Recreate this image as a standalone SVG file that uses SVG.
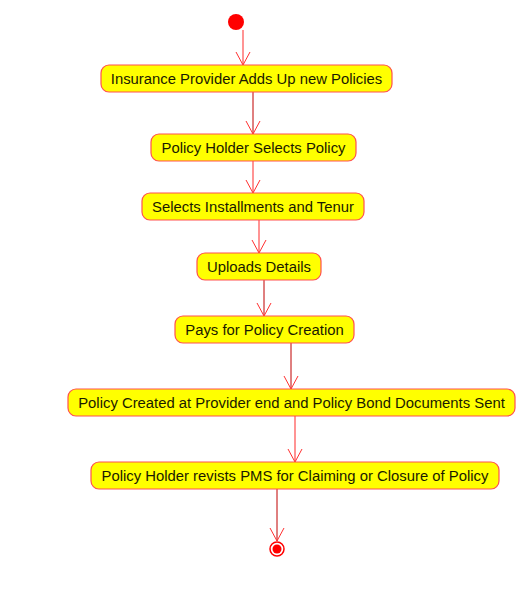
<svg xmlns="http://www.w3.org/2000/svg" width="517" height="608" viewBox="0 0 517 608">
<defs>
<style>
.node rect{fill:#FFFF00;stroke:#FF5050;stroke-width:1.2}
.node text{font-family:"Liberation Sans",Arial,sans-serif;font-size:14.85px;fill:#1a1a00;text-anchor:middle}
.c{fill:none;stroke-width:1}
.dark{stroke:#C00000}
.light{stroke:#FF7070;stroke-width:1.5}
.ah{fill:none;stroke:#FF3030;stroke-width:1}
</style>
</defs>
<rect width="517" height="608" fill="#ffffff"/>
<g id="connectors">
<line class="c light" x1="243" y1="30" x2="243" y2="65"/>
<polyline class="ah" points="236,52 243,65 250,52"/>
<line class="c dark" x1="253" y1="92" x2="253" y2="134"/>
<polyline class="ah" points="246,121 253,134 260,121"/>
<line class="c light" x1="253" y1="161" x2="253" y2="193"/>
<polyline class="ah" points="246,180 253,193 260,180"/>
<line class="c light" x1="259" y1="220" x2="259" y2="253"/>
<polyline class="ah" points="252,240 259,253 266,240"/>
<line class="c dark" x1="264" y1="280" x2="264" y2="316"/>
<polyline class="ah" points="257,303 264,316 271,303"/>
<line class="c dark" x1="291" y1="343" x2="291" y2="389"/>
<polyline class="ah" points="284,376 291,389 298,376"/>
<line class="c light" x1="295" y1="416" x2="295" y2="462"/>
<polyline class="ah" points="288,449 295,462 302,449"/>
<line class="c dark" x1="277" y1="489" x2="277" y2="541"/>
<polyline class="ah" points="270,528 277,541 284,528"/>
</g>
<g id="start"><circle cx="236" cy="22" r="8" fill="#FF0000"/></g>
<g id="n1" class="node"><rect x="101" y="65" width="291" height="27" rx="8"/><text x="246.5" y="84">Insurance Provider Adds Up new Policies</text></g>
<g id="n2" class="node"><rect x="151" y="134" width="205" height="27" rx="8"/><text x="253.5" y="153">Policy Holder Selects Policy</text></g>
<g id="n3" class="node"><rect x="142" y="193" width="222" height="27" rx="8"/><text x="253" y="212">Selects Installments and Tenur</text></g>
<g id="n4" class="node"><rect x="197" y="253" width="124" height="27" rx="8"/><text x="259" y="272">Uploads Details</text></g>
<g id="n5" class="node"><rect x="175" y="316" width="179" height="27" rx="8"/><text x="264.5" y="335">Pays for Policy Creation</text></g>
<g id="n6" class="node"><rect x="68" y="389" width="447" height="27" rx="8"/><text x="291.5" y="408">Policy Created at Provider end and Policy Bond Documents Sent</text></g>
<g id="n7" class="node"><rect x="91" y="462" width="408" height="27" rx="8"/><text x="295" y="481">Policy Holder revists PMS for Claiming or Closure of Policy</text></g>
<g id="end"><circle cx="277" cy="549" r="7" fill="#ffffff" stroke="#FF0000" stroke-width="1.5"/><circle cx="277" cy="549" r="4.5" fill="#FF0000"/></g>
</svg>
